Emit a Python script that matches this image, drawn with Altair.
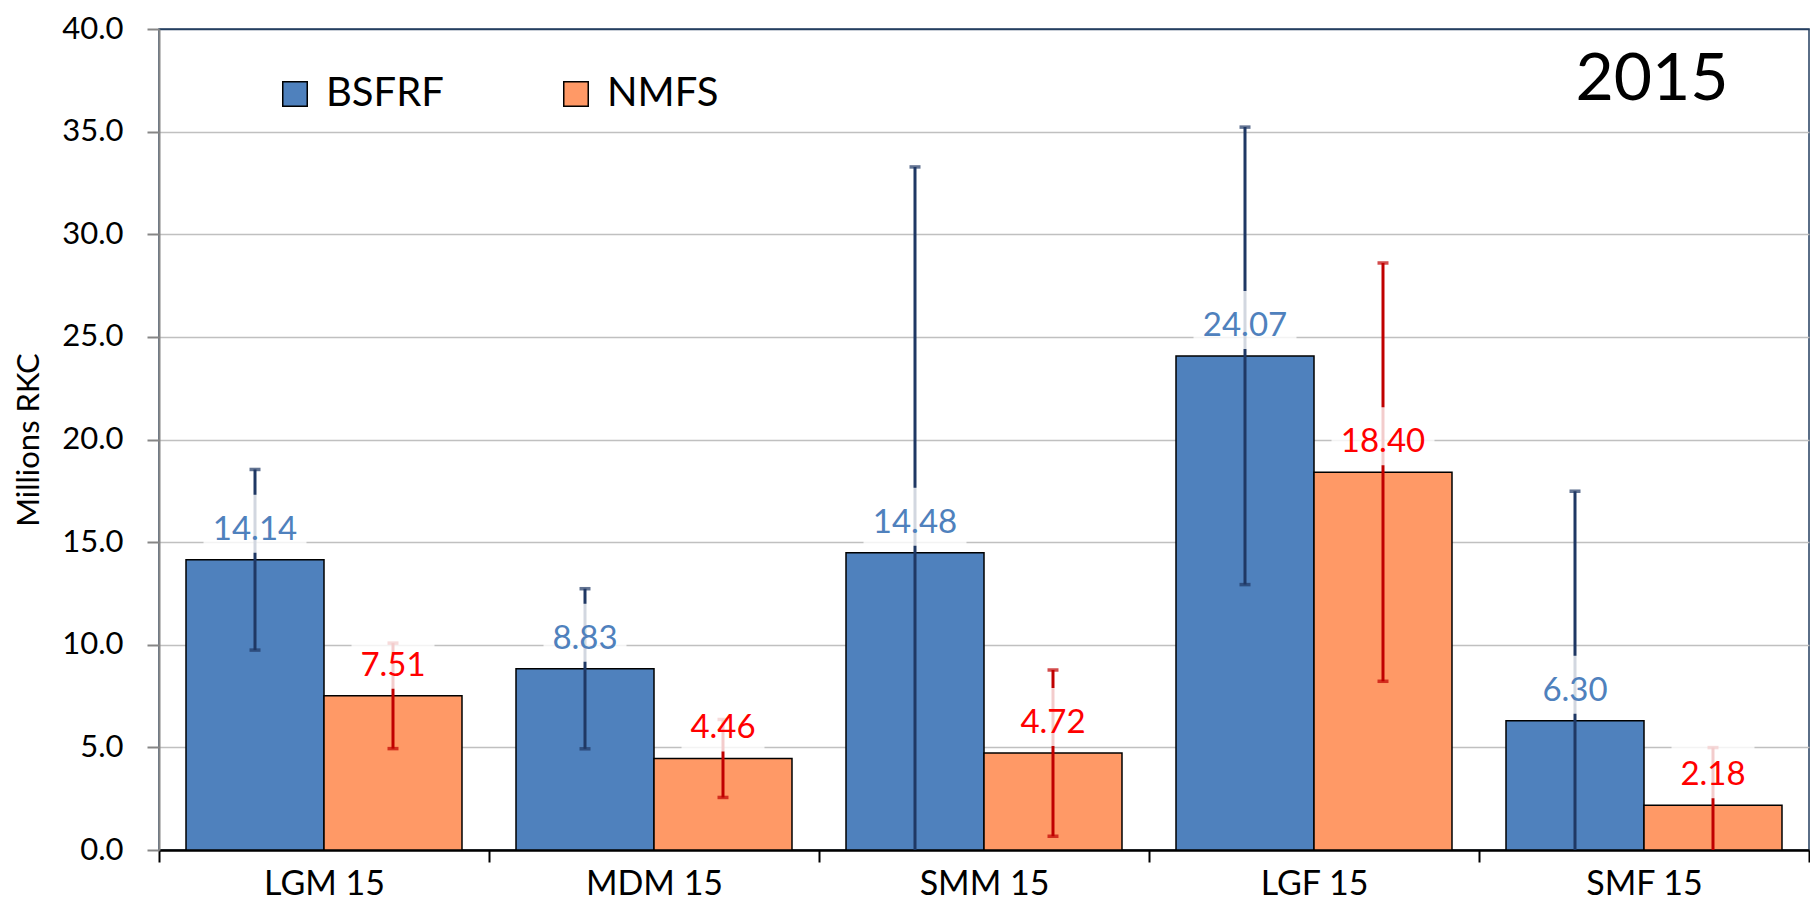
import altair as alt
import pandas as pd

categories = ["LGM 15", "MDM 15", "SMM 15", "LGF 15", "SMF 15"]
series = ["BSFRF", "NMFS"]
bsfrf = [14.14, 8.83, 14.48, 24.07, 6.30]
nmfs = [7.51, 4.46, 4.72, 18.40, 2.18]
bsfrf_lo = [9.74, 4.93, 0.0, 12.93, 0.0]
bsfrf_hi = [18.54, 12.73, 33.28, 35.22, 17.48]
nmfs_lo = [4.94, 2.56, 0.67, 8.22, 0.0]
nmfs_hi = [10.08, 6.36, 8.77, 28.60, 4.99]
y_ticks = [0, 5, 10, 15, 20, 25, 30, 35, 40]
year_label = ["2015"]

rows = []
for i, c in enumerate(categories):
    rows.append({"category": c, "series": "BSFRF", "value": bsfrf[i], "lo": bsfrf_lo[i], "hi": bsfrf_hi[i]})
    rows.append({"category": c, "series": "NMFS", "value": nmfs[i], "lo": nmfs_lo[i], "hi": nmfs_hi[i]})
df = pd.DataFrame(rows)

FONT = "Lato"
bar_colors = ["#4F81BD", "#FF9966"]

x_enc = alt.X(
    "category:N", sort=categories,
    scale=alt.Scale(paddingInner=0, paddingOuter=0),
    axis=alt.Axis(title=None, labelAngle=0, domainColor="black", domainWidth=2.5,
                  tickColor="black", tickSize=12, tickWidth=2, tickBand="extent",
                  labelFont=FONT, labelFontSize=34, labelColor="black", labelPadding=5,
                  grid=False),
)
xo_enc = alt.XOffset("series:N", sort=series,
                     scale=alt.Scale(paddingInner=0, paddingOuter=0.1957))
y_scale = alt.Scale(domain=[0, 40], nice=False)
y_enc = alt.Y(
    "value:Q", scale=y_scale,
    axis=alt.Axis(values=y_ticks, format=".1f", title="Millions RKC",
                  grid=True,
                  gridColor=alt.condition("datum.value == 40", alt.value("#243F60"), alt.value("#c0c0c0")),
                  gridWidth=1.5,
                  domainColor="#868686", domainWidth=2,
                  tickColor="#868686", tickSize=12, tickWidth=2,
                  labelFont=FONT, labelFontSize=31, labelColor="black", labelPadding=24,
                  titleFont=FONT, titleFontSize=31, titleFontWeight="normal",
                  titleColor="black", titlePadding=16),
)

base = alt.Chart(df)

bars = base.mark_bar(stroke="black", strokeWidth=1.5).encode(
    x=x_enc, xOffset=xo_enc, y=y_enc,
    color=alt.Color("series:N", sort=series,
                    scale=alt.Scale(domain=series, range=bar_colors),
                    legend=alt.Legend(orient="none", legendX=116, legendY=45,
                                      direction="horizontal", title=None,
                                      symbolType="square", symbolSize=600,
                                      symbolStrokeColor="black", symbolStrokeWidth=1.5,
                                      labelFont=FONT, labelFontSize=40, labelColor="black",
                                      labelOffset=11, columnPadding=112, padding=0)),
)

err_color = alt.condition("datum.series == 'BSFRF'", alt.value("#1F3864"), alt.value("#C00000"))

rules = base.mark_rule(strokeWidth=3).encode(
    x=x_enc, xOffset=xo_enc,
    y=alt.Y("lo:Q", scale=y_scale), y2="hi:Q",
    color=err_color,
)
caps_hi = base.mark_tick(size=11, thickness=3.5).encode(
    x=x_enc, xOffset=xo_enc, y=alt.Y("hi:Q", scale=y_scale), color=err_color,
)
caps_lo = base.transform_filter("datum.lo > 0").mark_tick(size=11, thickness=3.5).encode(
    x=x_enc, xOffset=xo_enc, y=alt.Y("lo:Q", scale=y_scale), color=err_color,
)

box_wide = base.transform_filter("datum.value >= 10").mark_bar(
    width=103, color="white", opacity=0.8, yOffset=-65, y2Offset=-7
).encode(x=x_enc, xOffset=xo_enc, y=alt.Y("value:Q", scale=y_scale), y2="value:Q")
box_narrow = base.transform_filter("datum.value < 10").mark_bar(
    width=83, color="white", opacity=0.8, yOffset=-65, y2Offset=-7
).encode(x=x_enc, xOffset=xo_enc, y=alt.Y("value:Q", scale=y_scale), y2="value:Q")

labels = base.mark_text(font=FONT, fontSize=33, dy=-20, baseline="alphabetic", align="center").encode(
    x=x_enc, xOffset=xo_enc, y=alt.Y("value:Q", scale=y_scale),
    text=alt.Text("value:Q", format=".2f"),
    color=alt.condition("datum.series == 'BSFRF'", alt.value("#4F81BD"), alt.value("#FF0000")),
)

year = alt.Chart(pd.DataFrame({"t": year_label})).mark_text(
    font=FONT, fontSize=66, align="center", baseline="middle", color="black"
).encode(text="t:N", x=alt.value(1493), y=alt.value(51))

chart = alt.layer(bars, rules, caps_hi, caps_lo, box_wide, box_narrow, labels, year).properties(
    width=1650, height=821,
    autosize=alt.AutoSizeParams(type="none"),
    padding={"left": 151, "top": 21, "right": 1, "bottom": 54},
).configure_view(stroke="#243F60", strokeWidth=1.5)

chart.save("out.html", embed_options={"renderer": "svg", "actions": False})
